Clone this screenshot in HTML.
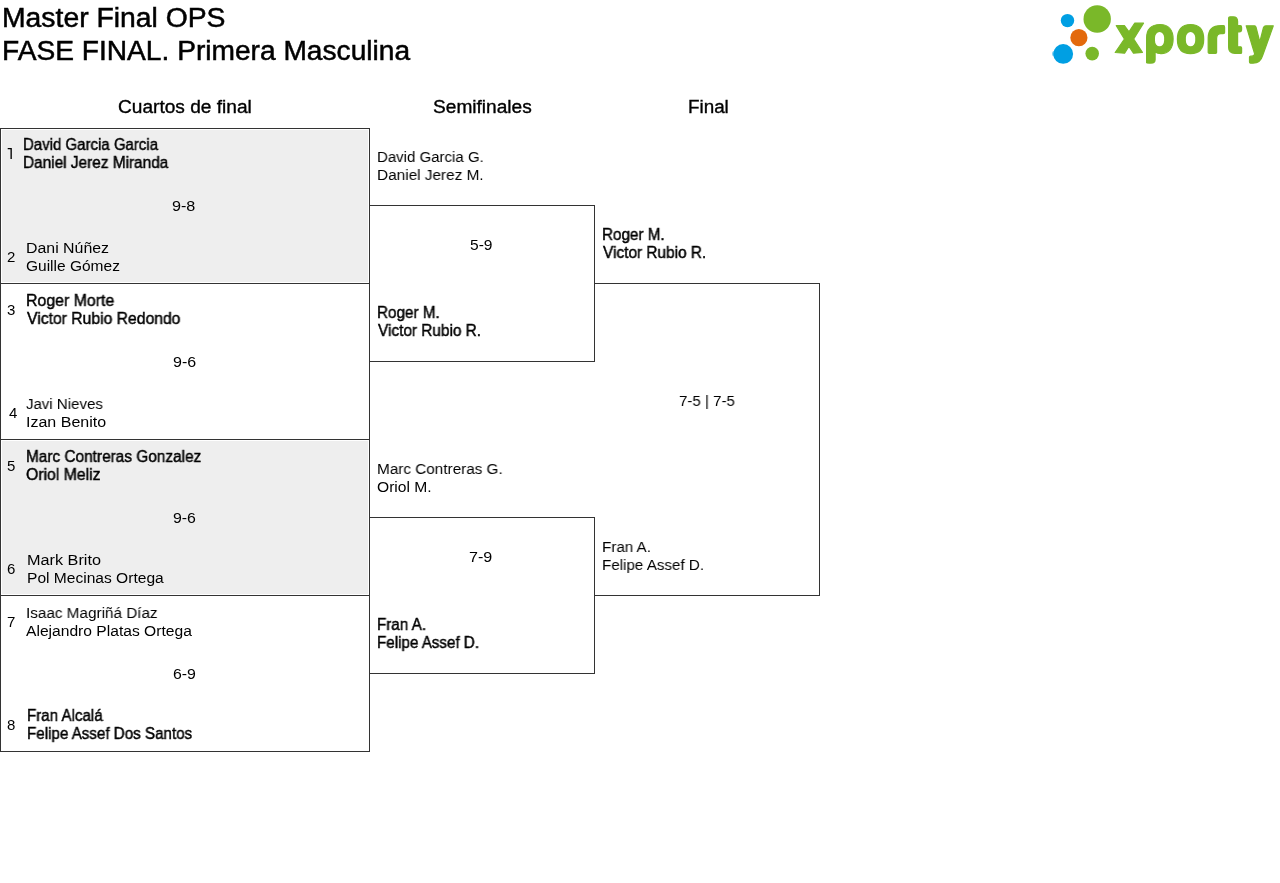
<!DOCTYPE html>
<html><head><meta charset="utf-8"><title>Master Final OPS</title>
<style>
html,body{margin:0;padding:0;background:#fff;width:1280px;height:883px;overflow:hidden;position:relative}
.l{position:absolute}
.g{position:absolute;background:#eeeeee}
.t{position:absolute;will-change:transform;font-family:"Liberation Sans", sans-serif;white-space:pre;line-height:1;transform-origin:0 0;color:#000}
</style></head><body>
<div class="g" style="left:2px;top:130px;width:366px;height:152px"></div>
<div class="g" style="left:2px;top:441px;width:366px;height:153px"></div>
<div class="l" style="left:0px;top:128px;width:1px;height:624px;background:#333"></div>
<div class="l" style="left:369px;top:128px;width:1px;height:624px;background:#333"></div>
<div class="l" style="left:0px;top:128px;width:370px;height:1px;background:#333"></div>
<div class="l" style="left:0px;top:283px;width:370px;height:1px;background:#333"></div>
<div class="l" style="left:0px;top:439px;width:370px;height:1px;background:#333"></div>
<div class="l" style="left:0px;top:595px;width:370px;height:1px;background:#333"></div>
<div class="l" style="left:0px;top:751px;width:370px;height:1px;background:#333"></div>
<div class="l" style="left:369px;top:205px;width:226px;height:1px;background:#333"></div>
<div class="l" style="left:369px;top:361px;width:226px;height:1px;background:#333"></div>
<div class="l" style="left:369px;top:517px;width:226px;height:1px;background:#333"></div>
<div class="l" style="left:369px;top:673px;width:226px;height:1px;background:#333"></div>
<div class="l" style="left:594px;top:205px;width:1px;height:157px;background:#333"></div>
<div class="l" style="left:594px;top:517px;width:1px;height:157px;background:#333"></div>
<div class="l" style="left:594px;top:283px;width:226px;height:1px;background:#333"></div>
<div class="l" style="left:594px;top:595px;width:226px;height:1px;background:#333"></div>
<div class="l" style="left:819px;top:283px;width:1px;height:313px;background:#333"></div>
<span class="t" style="left:1.7px;top:5.0px;font-size:27px;font-weight:400;color:#000;-webkit-text-stroke:0.5px #000;transform:scaleX(1.049)">Master Final OPS</span>
<span class="t" style="left:1.72px;top:37.9px;font-size:27px;font-weight:400;color:#000;-webkit-text-stroke:0.5px #000;transform:scaleX(1.0421)">FASE FINAL. Primera Masculina</span>
<span class="t" style="left:117.94px;top:98.0px;font-size:18px;font-weight:400;color:#000;-webkit-text-stroke:0.35px #000;transform:scaleX(1.0613)">Cuartos de final</span>
<span class="t" style="left:433.04px;top:98.0px;font-size:18px;font-weight:400;color:#000;-webkit-text-stroke:0.35px #000;transform:scaleX(1.062)">Semifinales</span>
<span class="t" style="left:687.85px;top:97.8px;font-size:18px;font-weight:400;color:#000;-webkit-text-stroke:0.35px #000;transform:scaleX(1.0459)">Final</span>
<span class="t" style="left:23.46px;top:136.8px;font-size:16px;font-weight:400;color:#000;-webkit-text-stroke:0.45px #000;transform:scaleX(0.9375)">David Garcia Garcia</span>
<span class="t" style="left:23.44px;top:154.9px;font-size:16px;font-weight:400;color:#000;-webkit-text-stroke:0.45px #000;transform:scaleX(0.9609)">Daniel Jerez Miranda</span>
<span class="t" style="left:25.97px;top:239.8px;font-size:15.5px;font-weight:400;color:#000;transform:scaleX(1.0253)">Dani Núñez</span>
<span class="t" style="left:26.0px;top:257.8px;font-size:15.5px;font-weight:400;color:#000">Guille Gómez</span>
<span class="t" style="left:172.36px;top:198.0px;font-size:15.5px;font-weight:400;color:#000;transform:scaleX(1.0429)">9-8</span>
<svg style="position:absolute;left:0;top:140px" width="20" height="24" viewBox="0 140 20 24"><path d="M7.7,148.55 H11.15 V159" fill="none" stroke="#000" stroke-width="1.35"/></svg>
<span class="t" style="left:7.35px;top:248.9px;font-size:15px;font-weight:400;color:#000">2</span>
<span class="t" style="left:26.41px;top:292.8px;font-size:16px;font-weight:400;color:#000;-webkit-text-stroke:0.45px #000;transform:scaleX(0.9931)">Roger Morte</span>
<span class="t" style="left:27.4px;top:310.9px;font-size:16px;font-weight:400;color:#000;-webkit-text-stroke:0.45px #000;transform:scaleX(0.9821)">Victor Rubio Redondo</span>
<span class="t" style="left:26.23px;top:395.8px;font-size:15.5px;font-weight:400;color:#000;transform:scaleX(0.9692)">Javi Nieves</span>
<span class="t" style="left:26.17px;top:413.8px;font-size:15.5px;font-weight:400;color:#000;transform:scaleX(1.0329)">Izan Benito</span>
<span class="t" style="left:172.67px;top:354.0px;font-size:15.5px;font-weight:400;color:#000;transform:scaleX(1.0333)">9-6</span>
<span class="t" style="left:7.1px;top:302.0px;font-size:15px;font-weight:400;color:#000">3</span>
<span class="t" style="left:8.75px;top:404.9px;font-size:15px;font-weight:400;color:#000">4</span>
<span class="t" style="left:25.74px;top:448.8px;font-size:16px;font-weight:400;color:#000;-webkit-text-stroke:0.45px #000;transform:scaleX(0.9613)">Marc Contreras Gonzalez</span>
<span class="t" style="left:25.71px;top:466.9px;font-size:16px;font-weight:400;color:#000;-webkit-text-stroke:0.45px #000;transform:scaleX(0.9865)">Oriol Meliz</span>
<span class="t" style="left:26.65px;top:551.8px;font-size:15.5px;font-weight:400;color:#000;transform:scaleX(1.0478)">Mark Brito</span>
<span class="t" style="left:26.7px;top:569.8px;font-size:15.5px;font-weight:400;color:#000;transform:scaleX(1.0044)">Pol Mecinas Ortega</span>
<span class="t" style="left:172.78px;top:510.0px;font-size:15.5px;font-weight:400;color:#000;transform:scaleX(1.0238)">9-6</span>
<span class="t" style="left:7.45px;top:458.0px;font-size:15px;font-weight:400;color:#000">5</span>
<span class="t" style="left:7.45px;top:560.9px;font-size:15px;font-weight:400;color:#000">6</span>
<span class="t" style="left:25.71px;top:604.8px;font-size:15.5px;font-weight:400;color:#000;transform:scaleX(0.9856)">Isaac Magriñá Díaz</span>
<span class="t" style="left:26.3px;top:622.9px;font-size:15.5px;font-weight:400;color:#000;transform:scaleX(1.0079)">Alejandro Platas Ortega</span>
<span class="t" style="left:27.45px;top:707.8px;font-size:16px;font-weight:400;color:#000;-webkit-text-stroke:0.45px #000;transform:scaleX(0.945)">Fran Alcalá</span>
<span class="t" style="left:27.45px;top:725.8px;font-size:16px;font-weight:400;color:#000;-webkit-text-stroke:0.45px #000;transform:scaleX(0.9474)">Felipe Assef Dos Santos</span>
<span class="t" style="left:172.78px;top:666.0px;font-size:15.5px;font-weight:400;color:#000;transform:scaleX(1.0238)">6-9</span>
<span class="t" style="left:6.95px;top:614.0px;font-size:15px;font-weight:400;color:#000">7</span>
<span class="t" style="left:7.45px;top:716.9px;font-size:15px;font-weight:400;color:#000">8</span>
<span class="t" style="left:377.03px;top:149.0px;font-size:15.5px;font-weight:400;color:#000;transform:scaleX(0.9676)">David Garcia G.</span>
<span class="t" style="left:377.01px;top:166.8px;font-size:15.5px;font-weight:400;color:#000;transform:scaleX(0.9905)">Daniel Jerez M.</span>
<span class="t" style="left:470.2px;top:236.9px;font-size:15.5px;font-weight:400;color:#000;transform:scaleX(1.0048)">5-9</span>
<span class="t" style="left:377.25px;top:305.0px;font-size:16px;font-weight:400;color:#000;-webkit-text-stroke:0.45px #000;transform:scaleX(0.9547)">Roger M.</span>
<span class="t" style="left:378.2px;top:322.7px;font-size:16px;font-weight:400;color:#000;-webkit-text-stroke:0.45px #000;transform:scaleX(0.9604)">Victor Rubio R.</span>
<span class="t" style="left:377.01px;top:461.0px;font-size:15.5px;font-weight:400;color:#000;transform:scaleX(0.9864)">Marc Contreras G.</span>
<span class="t" style="left:376.99px;top:479.0px;font-size:15.5px;font-weight:400;color:#000;transform:scaleX(1.0077)">Oriol M.</span>
<span class="t" style="left:469.46px;top:548.7px;font-size:15.5px;font-weight:400;color:#000;transform:scaleX(1.0381)">7-9</span>
<span class="t" style="left:377.25px;top:617.0px;font-size:16px;font-weight:400;color:#000;-webkit-text-stroke:0.45px #000;transform:scaleX(0.95)">Fran A.</span>
<span class="t" style="left:377.25px;top:635.0px;font-size:16px;font-weight:400;color:#000;-webkit-text-stroke:0.45px #000;transform:scaleX(0.9481)">Felipe Assef D.</span>
<span class="t" style="left:602.05px;top:227.0px;font-size:16px;font-weight:400;color:#000;-webkit-text-stroke:0.45px #000;transform:scaleX(0.9531)">Roger M.</span>
<span class="t" style="left:603.0px;top:245.0px;font-size:16px;font-weight:400;color:#000;-webkit-text-stroke:0.45px #000;transform:scaleX(0.9623)">Victor Rubio R.</span>
<span class="t" style="left:679.03px;top:392.8px;font-size:15.5px;font-weight:400;color:#000;transform:scaleX(0.9732)">7-5 | 7-5</span>
<span class="t" style="left:602.02px;top:539.0px;font-size:15.5px;font-weight:400;color:#000;transform:scaleX(0.9792)">Fran A.</span>
<span class="t" style="left:602.02px;top:556.8px;font-size:15.5px;font-weight:400;color:#000;transform:scaleX(0.9784)">Felipe Assef D.</span>
<svg class="logo" width="240" height="80" viewBox="1040 0 240 80" style="position:absolute;left:1040px;top:0">
<circle cx="1067.5" cy="20.6" r="6.7" fill="#009fe3"/>
<circle cx="1097.2" cy="19.0" r="13.7" fill="#7ab829"/>
<circle cx="1078.9" cy="37.7" r="8.6" fill="#e3690c"/>
<ellipse cx="1055" cy="53.7" rx="2.9" ry="2.9" fill="#009fe3" opacity="0.55"/>
<circle cx="1063.2" cy="53.9" r="9.9" fill="#009fe3"/>
<circle cx="1092.2" cy="53.6" r="6.8" fill="#7ab829"/>
<g fill="#7ab829" stroke="#7ab829" stroke-width="1.2" stroke-linejoin="round">
<path d="M1116.3,25.6 L1124.4,25.6 L1129,31.8 L1134.8,23 L1143.5,23.2 L1133.7,39 L1142.4,52.4 L1133.5,53.2 L1129,46.3 L1124.6,53.2 L1115.2,52.5 L1124.4,39 Z"/>
<path d="M1146.6,62.8 L1146.6,38 C1146.6,29 1151.5,24.5 1160,24.5 C1168.5,24.5 1173.1,30 1173.1,39 C1173.1,48.3 1168.5,53.6 1161,53.6 C1158.5,53.6 1156.5,52.9 1155.1,52 L1155.1,59.8 C1155.1,62.3 1153.5,63.1 1151,63.1 L1149,63.1 C1147.5,63.1 1146.6,63 1146.6,62.8 Z"/>
<path d="M1190.5,24.5 C1199.3,24.5 1203.7,30.2 1203.7,39.2 C1203.7,48.2 1199.3,53.6 1190.5,53.6 C1181.7,53.6 1177.4,48.2 1177.4,39.2 C1177.4,30.2 1181.7,24.5 1190.5,24.5 Z"/>
<path d="M1208.2,52.6 L1208.2,38 C1208.2,29.5 1212.5,25.6 1221,25.6 L1223.5,25.6 C1224.3,25.6 1224.6,26.2 1224.6,27.4 L1224.6,32.4 C1224.6,33.3 1224.1,33.6 1223.2,33.6 L1221,33.6 C1218.3,33.6 1216.6,35.3 1216.6,38.5 L1216.6,52.6 C1216.6,53.2 1216.2,53.4 1215.5,53.4 L1209.5,53.4 C1208.6,53.4 1208.2,53.1 1208.2,52.6 Z"/>
<path d="M1228.6,18 C1228.6,17.2 1229.2,16.8 1230.2,16.8 L1233.2,16.8 C1236.2,16.8 1237.6,18.8 1237.6,21.5 L1237.6,25.6 L1240.2,25.6 C1241.2,25.6 1241.6,26.2 1241.6,27.4 L1241.6,29.6 C1241.6,31 1240.8,32 1239.3,32 L1237.6,32 L1237.6,46.8 L1240.6,46.8 C1241.3,46.8 1241.6,47.2 1241.6,47.9 L1241.6,52.5 C1241.6,53.1 1241.3,53.4 1240.6,53.4 L1235,53.4 C1230.8,53.4 1228.6,51.3 1228.6,47.3 Z"/>
<path d="M1246.2,25.8 L1254.5,25.8 C1255.3,25.8 1255.8,26.3 1256,27.1 L1259.8,42 L1263.5,27.5 C1264,26.2 1265,25.8 1266,25.8 L1273.3,25.8 L1263,54.5 C1261.3,60.5 1258.5,63.2 1253,63.2 L1250.5,63.2 C1249.8,63.2 1249.5,62.8 1249.5,62.1 L1249.5,57.3 C1249.5,56.6 1250,56.2 1250.8,56.2 L1252,56.2 C1253.5,56.2 1254.3,55.6 1254.7,54 Z"/>
</g>
<rect x="1155" y="32.1" width="9.1" height="14.2" rx="4.5" ry="5.5" fill="#fff"/>
<rect x="1185.9" y="32.1" width="9.3" height="14.2" rx="4.6" ry="5.5" fill="#fff"/>
</svg>
</body></html>
